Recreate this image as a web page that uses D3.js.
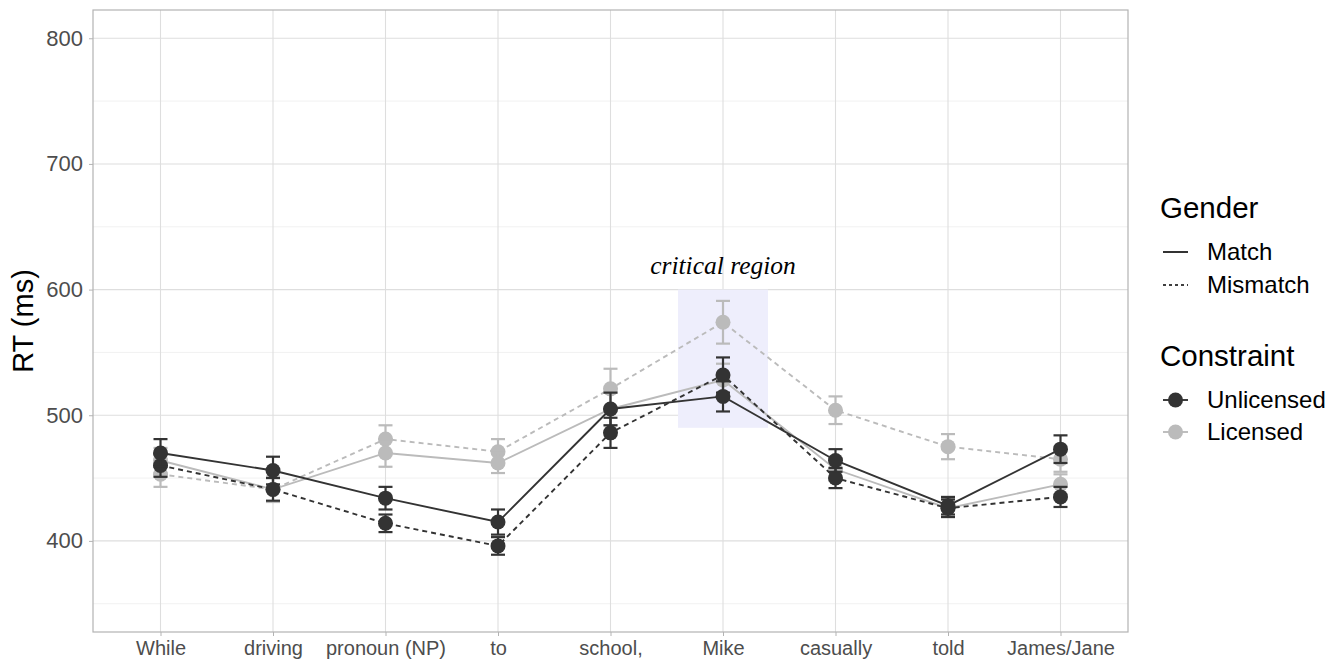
<!DOCTYPE html>
<html><head><meta charset="utf-8">
<script src="https://cdn.jsdelivr.net/npm/d3@7"></script>
<style>body{margin:0;background:#fff}svg{font-family:"Liberation Sans",Arial,sans-serif}</style>
</head><body><svg id="c" width="1337" height="661"></svg>
<script>
const categories = ["While","driving","pronoun (NP)","to","school,","Mike","casually","told","James/Jane"];
const unlicMatch      = [470,456,434,415,505,515,464,428,473];
const unlicMatchSE    = [11,11,9,10,13,12,9,7,11];
const unlicMismatch   = [460,441,414,396,486,532,450,426,435];
const unlicMismatchSE = [9,9,7,7,12,14,8,7,8];
const licMatch        = [464,441,470,462,505,528,457,426,445];
const licMatchSE      = [10,10,11,8,13,13,9,7,8];
const licMismatch     = [453,441,481,471,521,574,504,475,465];
const licMismatchSE   = [10,10,11,10,16,17,11,10,10];
const yTicks = [400,500,600,700,800];
const yMinor = [350,450,550,650,750];
const criticalRegion = {category:"Mike", low:490, high:600, label:"critical region"};

const series = [
  {name:"Licensed Mismatch", constraint:"Licensed", gender:"Mismatch", vals:licMismatch, se:licMismatchSE},
  {name:"Licensed Match", constraint:"Licensed", gender:"Match", vals:licMatch, se:licMatchSE},
  {name:"Unlicensed Mismatch", constraint:"Unlicensed", gender:"Mismatch", vals:unlicMismatch, se:unlicMismatchSE},
  {name:"Unlicensed Match", constraint:"Unlicensed", gender:"Match", vals:unlicMatch, se:unlicMatchSE}
];
const color = d3.scaleOrdinal().domain(["Unlicensed","Licensed"]).range(["#333333","#bbbbbb"]);
const dash = d3.scaleOrdinal().domain(["Match","Mismatch"]).range([null,"5,4"]);

const svg = d3.select("#c");
const L=93, R=1128, T=10, B=632;
const x = d3.scalePoint().domain(categories).range([L,R]).padding(0.6);
const step = x.step();
const y = d3.scaleLinear().domain([350-22.5, 800+22.5]).range([B,T]);

// grid
const g = svg.append("g");
g.selectAll(".ymin").data(yMinor).join("line").attr("x1",L).attr("x2",R)
  .attr("y1",d=>y(d)).attr("y2",d=>y(d)).attr("stroke","#ebebeb").attr("stroke-width",0.7);
g.selectAll(".ymaj").data(yTicks).join("line").attr("x1",L).attr("x2",R)
  .attr("y1",d=>y(d)).attr("y2",d=>y(d)).attr("stroke","#dedede").attr("stroke-width",1.1);
g.selectAll(".xmaj").data(categories).join("line").attr("x1",d=>x(d)).attr("x2",d=>x(d))
  .attr("y1",T).attr("y2",B).attr("stroke","#dedede").attr("stroke-width",1.1);

// critical region
svg.append("rect").attr("x",x(criticalRegion.category)-0.4*step).attr("width",0.8*step)
  .attr("y",y(criticalRegion.high)).attr("height",y(criticalRegion.low)-y(criticalRegion.high))
  .attr("fill","#eeeefc");
svg.append("text").attr("x",x(criticalRegion.category)).attr("y",y(criticalRegion.high)-16)
  .attr("text-anchor","middle").attr("font-family","'Liberation Serif','Times New Roman',serif")
  .attr("font-style","italic").attr("font-size",25.5).attr("fill","#000").text(criticalRegion.label);

// series
const line = d3.line().x(d=>x(d.c)).y(d=>y(d.v));
series.forEach(s=>{
  const pts = categories.map((c,i)=>({c, v:s.vals[i], se:s.se[i]}));
  const sg = svg.append("g");
  sg.append("path").datum(pts).attr("d",line).attr("fill","none")
    .attr("stroke",color(s.constraint)).attr("stroke-width",1.9)
    .attr("stroke-dasharray",dash(s.gender));
  const eb = sg.selectAll(".eb").data(pts).join("g").attr("stroke",color(s.constraint)).attr("stroke-width",2.2);
  eb.append("line").attr("x1",d=>x(d.c)).attr("x2",d=>x(d.c)).attr("y1",d=>y(d.v-d.se)).attr("y2",d=>y(d.v+d.se));
  eb.append("line").attr("x1",d=>x(d.c)-7).attr("x2",d=>x(d.c)+7).attr("y1",d=>y(d.v-d.se)).attr("y2",d=>y(d.v-d.se));
  eb.append("line").attr("x1",d=>x(d.c)-7).attr("x2",d=>x(d.c)+7).attr("y1",d=>y(d.v+d.se)).attr("y2",d=>y(d.v+d.se));
  sg.selectAll("circle").data(pts).join("circle").attr("cx",d=>x(d.c)).attr("cy",d=>y(d.v))
    .attr("r",7.5).attr("fill",color(s.constraint));
});

// panel border
svg.append("rect").attr("x",L).attr("y",T).attr("width",R-L).attr("height",B-T)
  .attr("fill","none").attr("stroke","#b3b3b3").attr("stroke-width",1.2);

// axes
const ya = svg.append("g").attr("transform",`translate(${L},0)`)
  .call(d3.axisLeft(y).tickValues(yTicks).tickSize(4).tickPadding(6));
ya.select(".domain").remove();
ya.selectAll(".tick line").attr("stroke","#b3b3b3");
ya.selectAll(".tick text").attr("fill","#4d4d4d").attr("font-size",22).attr("font-family","'Liberation Sans',Arial,sans-serif");
const xa = svg.append("g").attr("transform",`translate(0,${B})`)
  .call(d3.axisBottom(x).tickSize(4).tickPadding(5));
xa.select(".domain").remove();
xa.selectAll(".tick line").attr("stroke","#b3b3b3");
xa.selectAll(".tick text").attr("fill","#4d4d4d").attr("font-size",20).attr("font-family","'Liberation Sans',Arial,sans-serif");

svg.append("text").attr("transform",`translate(33,${(T+B)/2}) rotate(-90)`).attr("text-anchor","middle")
  .attr("font-size",29).attr("fill","#000").text("RT (ms)");

// legend
const lg = svg.append("g");
lg.append("text").attr("x",1160).attr("y",218).attr("font-size",29.5).text("Gender");
const gItems = ["Match","Mismatch"];
gItems.forEach((k,i)=>{
  const yy = 252 + i*33;
  lg.append("line").attr("x1",1163).attr("x2",1188).attr("y1",yy).attr("y2",yy)
    .attr("stroke","#000").attr("stroke-width",1.6).attr("stroke-dasharray",dash(k) ? "3,3" : null);
  lg.append("text").attr("x",1207).attr("y",yy+8).attr("font-size",24).text(k);
});
lg.append("text").attr("x",1160).attr("y",366).attr("font-size",29.5).text("Constraint");
["Unlicensed","Licensed"].forEach((k,i)=>{
  const yy = 400 + i*32;
  lg.append("line").attr("x1",1163).attr("x2",1188).attr("y1",yy).attr("y2",yy)
    .attr("stroke",color(k)).attr("stroke-width",1.9);
  lg.append("circle").attr("cx",1175.5).attr("cy",yy).attr("r",7.5).attr("fill",color(k));
  lg.append("text").attr("x",1207).attr("y",yy+8).attr("font-size",24).text(k);
});
</script></body></html>
